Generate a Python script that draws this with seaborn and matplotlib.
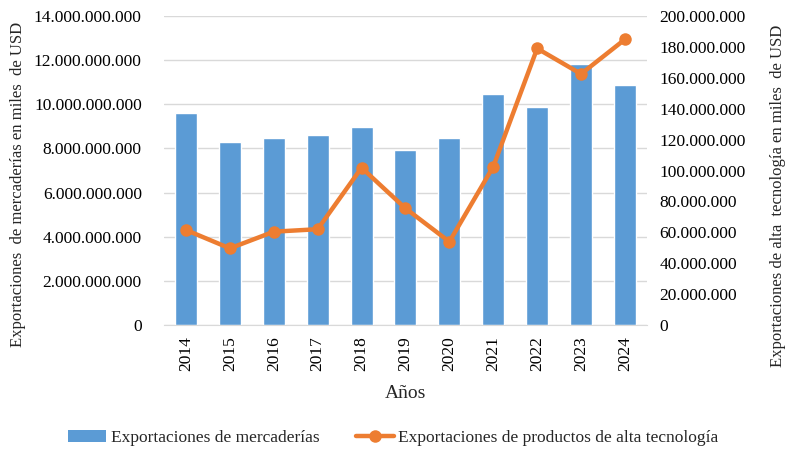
import matplotlib
matplotlib.use("Agg")
import matplotlib.pyplot as plt
import matplotlib.ticker as mticker
from matplotlib.lines import Line2D
from matplotlib.patches import Patch
import seaborn as sns
import pandas as pd

years = ["2014", "2015", "2016", "2017", "2018", "2019", "2020", "2021", "2022", "2023", "2024"]
mercaderias = [9.59e9, 8.31e9, 8.46e9, 8.61e9, 8.99e9, 7.93e9, 8.49e9, 10.48e9, 9.89e9, 11.83e9, 10.87e9]
alta_tec = [61.5e6, 49.6e6, 60.4e6, 62.0e6, 101.8e6, 75.5e6, 53.9e6, 102.5e6, 179.0e6, 162.5e6, 184.9e6]

left_ticks = [0, 2e9, 4e9, 6e9, 8e9, 10e9, 12e9, 14e9]
right_ticks = [0, 20e6, 40e6, 60e6, 80e6, 100e6, 120e6, 140e6, 160e6, 180e6, 200e6]

df = pd.DataFrame({"year": years, "merc": mercaderias, "tec": alta_tec})

sns.set_style("white")
plt.rcParams["font.family"] = ["Liberation Serif", "DejaVu Serif"]

BLUE = "#5B9BD5"
ORANGE = "#ED7D31"
GRID = "#D9D9D9"

fig = plt.figure(figsize=(7.87, 4.51), dpi=100)
ax = fig.add_axes([0.2084, 0.2794, 0.6136, 0.6851])

sns.barplot(data=df, x="year", y="merc", color=BLUE, width=0.5, ax=ax,
            saturation=1, zorder=2)
ax.set_ylim(0, 14e9)
ax.set_yticks(left_ticks)
fmt = mticker.FuncFormatter(lambda v, p: f"{int(round(v)):,}".replace(",", "."))
ax.yaxis.set_major_formatter(fmt)
ax.grid(axis="y", color=GRID, linewidth=1, zorder=0)
ax.set_axisbelow(True)
for s in ["top", "right", "left"]:
    ax.spines[s].set_visible(False)
ax.spines["bottom"].set_color(GRID)
ax.tick_params(axis="both", length=0, labelsize=12.5, colors="black")
ax.tick_params(axis="y", pad=16)
ax.tick_params(axis="x", rotation=90, pad=8)
ax.set_xlabel("Años", fontsize=14, labelpad=10)
ax.set_ylabel("Exportaciones  de mercaderías en miles  de USD", fontsize=12)
ax.yaxis.set_label_coords(-0.286, 0.456)
ax.set_xlim(-0.5, len(years) - 0.5)

ax2 = ax.twinx()
sns.lineplot(data=df, x="year", y="tec", color=ORANGE, linewidth=3.2, marker="o",
             markersize=9, markeredgewidth=0, ax=ax2, sort=False, zorder=3)
ax2.set_ylim(0, 200e6)
ax2.set_yticks(right_ticks)
ax2.yaxis.set_major_formatter(fmt)
for s in ["top", "right", "left", "bottom"]:
    ax2.spines[s].set_visible(False)
ax2.tick_params(axis="y", length=0, labelsize=12.5, colors="black", pad=9)
ax2.set_ylabel("Exportaciones de alta  tecnología en miles  de USD", fontsize=12)
ax2.yaxis.set_label_coords(1.255, 0.417)
ax2.set_xlim(-0.5, len(years) - 0.5)

handles = [Patch(facecolor=BLUE, edgecolor="none"),
           Line2D([0], [0], color=ORANGE, linewidth=3.2, marker="o", markersize=9, markeredgewidth=0)]
labels = ["Exportaciones de mercaderías", "Exportaciones de productos de alta tecnología"]
fig.legend(handles, labels, loc="center", bbox_to_anchor=(0.500, 0.028), ncol=2, frameon=False,
           fontsize=12.5, handlelength=2.2, columnspacing=2.1, handletextpad=0.25)

fig.savefig("out.png", dpi=100)
